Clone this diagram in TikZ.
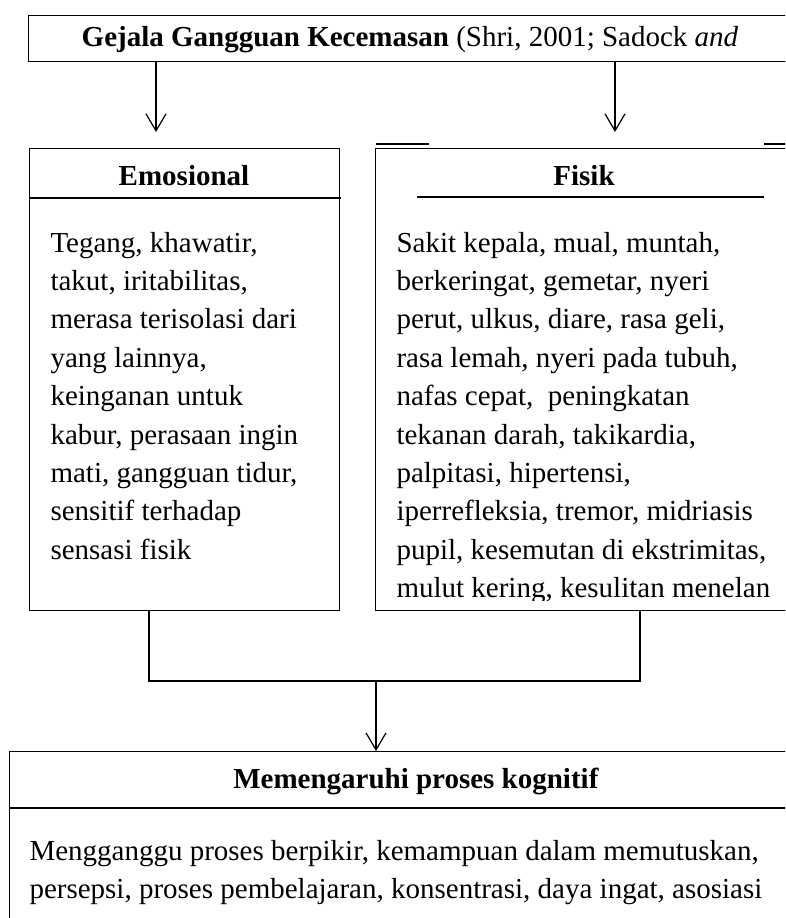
\documentclass[tikz,border=0pt]{standalone}
\usepackage{fontspec}
\setmainfont{Liberation Serif}
\usetikzlibrary{arrows.meta}
\newcommand{\bodyfont}{\fontsize{29}{38.4}\selectfont}

\begin{document}
\begin{tikzpicture}
[x=1pt,y=-1pt,line width=1pt]
\tikzstyle{box}=[draw,rectangle,inner sep=0,anchor=north west]
\tikzstyle{txt}=[inner sep=0,anchor=base west]
\tikzstyle{head}=[inner sep=0,anchor=base]
\tikzstyle{rule}=[line width=1.7pt]
\tikzstyle{arr}=[line width=1.2pt,-{Straight Barb[length=17pt,width=20pt,line width=1.2pt]}]

\useasboundingbox (0,0) rectangle (785,918);
\clip (0,0) rectangle (785,918);

\node(top)[box,minimum width=763pt,minimum height=46pt] at (28,15){};
\node(ttl)[head] at (410,46){\bodyfont\textbf{Gejala Gangguan Kecemasan} (Shri, 2001; Sadock \textit{and}};

\node(emo)[box,minimum width=310pt,minimum height=462pt] at (29,148){};
\draw[rule] (29,198) -- (341,198);
\node(emoh)[head] at (184,185){\bodyfont\textbf{Emosional}};
\node(emot)[txt] at (50,252){\parbox[t]{300pt}{\bodyfont Tegang, khawatir,\\
takut, iritabilitas,\\
merasa terisolasi dari\\
yang lainnya,\\
keinganan untuk\\
kabur, perasaan ingin\\
mati, gangguan tidur,\\
sensitif terhadap\\
sensasi fisik}};

\node(fis)[box,minimum width=420pt,minimum height=462pt] at (375,148){};
\draw[rule] (376,144) -- (429,144);
\draw[rule] (764,144) -- (790,144);
\draw[rule] (417,197) -- (764,197);
\node(fish)[head] at (584,185){\bodyfont\textbf{Fisik}};
\begin{scope}
\clip (376,149) rectangle (790,600);
\node(fist)[txt] at (396,252){\parbox[t]{400pt}{\bodyfont Sakit kepala, mual, muntah,\\
berkeringat, gemetar, nyeri\\
perut, ulkus, diare, rasa geli,\\
rasa lemah, nyeri pada tubuh,\\
nafas cepat, \ peningkatan\\
tekanan darah, takikardia,\\
palpitasi, hipertensi,\\
iperrefleksia, tremor, midriasis\\
pupil, kesemutan di ekstrimitas,\\
mulut kering, kesulitan menelan}};
\end{scope}

\coordinate(a1) at (156,132);
\coordinate(a2) at (615,132);
\draw[arr] (top.south -| a1) -- (a1);
\draw[arr] (top.south -| a2) -- (a2);

\node(kog)[box,minimum width=800pt,minimum height=220pt] at (9,751){};
\draw[rule] (9,808) -- (790,808);
\node(kogh)[head] at (416,788){\bodyfont\textbf{Memengaruhi proses kognitif}};
\node(kogt)[txt] at (29,860){\parbox[t]{770pt}{\bodyfont Mengganggu proses berpikir, kemampuan dalam memutuskan,\\
persepsi, proses pembelajaran, konsentrasi, daya ingat, asosiasi}};

\coordinate(jl) at (149,681);
\coordinate(jr) at (640,681);
\coordinate(jm) at (376,681);
\draw[line width=1.2pt] (emo.south -| jl) -- (jl) -- (jr) -- (fis.south -| jr);
\draw[arr] (jm) -- (kog.north -| jm);
\end{tikzpicture}
\end{document}
